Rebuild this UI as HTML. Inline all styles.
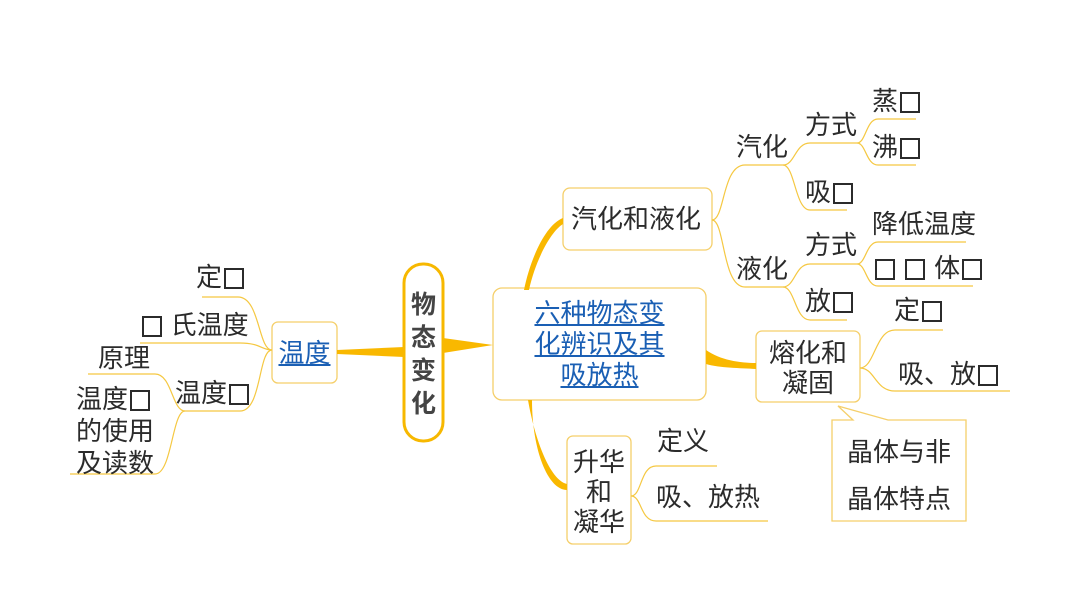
<!DOCTYPE html>
<html><head><meta charset="utf-8"><style>
body{margin:0;width:1066px;height:600px;background:#fff;position:relative;overflow:hidden;font-family:"Liberation Sans","Noto Sans CJK SC",sans-serif;}
.t{position:absolute;font-size:26px;color:#2b2b2b;line-height:28px;white-space:nowrap;}
.b{color:#1a5fb4;text-decoration:underline;}
.q{display:inline-block;width:0.78em;height:0.78em;border:2px solid #2b2b2b;box-sizing:border-box;vertical-align:-0.1em;margin:0 0.06em;}
svg{position:absolute;left:0;top:0;}
</style></head><body>
<svg width="1066" height="600" viewBox="0 0 1066 600">
<g fill="#fff" stroke="#f5cf6a" stroke-width="1.3">
<rect x="493" y="288" width="213" height="112" rx="9"/>
<rect x="272" y="322" width="65" height="61" rx="6"/>
<rect x="563" y="188" width="149" height="62" rx="7"/>
<rect x="756" y="331" width="104" height="71" rx="6"/>
<rect x="567" y="436" width="64" height="108" rx="6"/>
<path d="M832 420 L853 420 L838 406 L888 420 L966 420 L966 521 L832 521 Z"/>
</g>
<rect x="404" y="264" width="39" height="177" rx="19" fill="#fff" stroke="#f7b800" stroke-width="3"/>
<g fill="#f9b800">
<path d="M337 350 L404 347 L404 357 L337 354 Z"/>
<path d="M443 338 L493 345 L443 353 Z"/>
<path d="M524 290 C530 260 545 225 563 218 L563 224 C550 232 535 262 529 290 Z"/>
<path d="M706 350 C720 360 740 363 756 363 L756 369 C740 368 720 368 706 364 Z"/>
<path d="M528 400 C535 440 550 480 567 484 L567 490 C548 490 532 450 532 400 Z"/>
</g>
<g fill="none" stroke="#f5c842" stroke-width="1.2">
<path d="M712 220 C725 220 722 165 745 165 L783 165"/>
<path d="M712 220 C725 220 722 287 745 287 L783 287"/>
<path d="M783 165 C795 165 795 143 810 143 L857 143"/>
<path d="M783 165 C795 165 795 210 810 210 L847 210"/>
<path d="M857 143 C866 143 866 119 878 119 L916 119"/>
<path d="M857 143 C866 143 866 165 878 165 L916 165"/>
<path d="M783 287 C795 287 795 264 810 264 L857 264"/>
<path d="M783 287 C795 287 795 320 810 320 L847 320"/>
<path d="M857 264 C866 264 866 242 878 242 L966 242"/>
<path d="M857 264 C866 264 866 286 878 286 L973 286"/>
<path d="M860 368 C875 368 875 330 895 330 L943 330"/>
<path d="M860 368 C875 368 875 391 895 391 L1010 391"/>
<path d="M631 496 C642 496 640 466 656 466 L717 466"/>
<path d="M631 496 C642 496 640 521 656 521 L768 521"/>
<path d="M272 350 C258 350 260 297 238 297 L202 297"/>
<path d="M272 350 C262 350 260 343 240 343 L140 343"/>
<path d="M272 350 C258 350 262 411 240 411 L185 411"/>
<path d="M185 411 C172 411 172 374 155 374 L88 374"/>
<path d="M185 411 C172 411 172 474 155 474 L70 474"/>
</g>
</svg>
<div class="t" style="left:408px;top:289px;font-weight:bold;color:#444;font-size:25px;line-height:33px;width:31px;white-space:normal;text-align:center">物态变化</div>
<div class="t b" style="left:493px;top:298px;width:213px;text-align:center;font-size:26px;line-height:31px;white-space:normal">六种物态变<br>化辨识及其<br>吸放热</div>
<div class="t b" style="left:272px;top:339px;width:65px;text-align:center">温度</div>
<div class="t" style="left:571px;top:205px">汽化和液化</div>
<div class="t" style="left:756px;top:338px;width:104px;text-align:center;line-height:30px">熔化和<br>凝固</div>
<div class="t" style="left:567px;top:447px;width:64px;text-align:center;line-height:30px">升华<br>和<br>凝华</div>
<div class="t" style="left:832px;top:429px;width:134px;text-align:center;line-height:47px">晶体与非<br>晶体特点</div>
<div class="t" style="left:736px;top:133px">汽化</div>
<div class="t" style="left:736px;top:255px">液化</div>
<div class="t" style="left:805px;top:111px">方式</div>
<div class="t" style="left:805px;top:178px">吸<span class="q"></span></div>
<div class="t" style="left:872px;top:87px">蒸<span class="q"></span></div>
<div class="t" style="left:872px;top:133px">沸<span class="q"></span></div>
<div class="t" style="left:805px;top:231px">方式</div>
<div class="t" style="left:805px;top:287px">放<span class="q"></span></div>
<div class="t" style="left:872px;top:210px">降低温度</div>
<div class="t" style="left:873px;top:254px"><span class="q"></span> <span class="q"></span> 体<span class="q"></span></div>
<div class="t" style="left:894px;top:296px">定<span class="q"></span></div>
<div class="t" style="left:898px;top:360px">吸、放<span class="q"></span></div>
<div class="t" style="left:657px;top:427px">定义</div>
<div class="t" style="left:656px;top:483px">吸、放热</div>
<div class="t" style="left:196px;top:263px">定<span class="q"></span></div>
<div class="t" style="left:140px;top:311px"><span class="q"></span> 氏温度</div>
<div class="t" style="left:175px;top:379px">温度<span class="q"></span></div>
<div class="t" style="left:98px;top:344px">原理</div>
<div class="t" style="left:76px;top:383px;line-height:32px">温度<span class="q"></span><br>的使用<br>及读数</div>
</body></html>
